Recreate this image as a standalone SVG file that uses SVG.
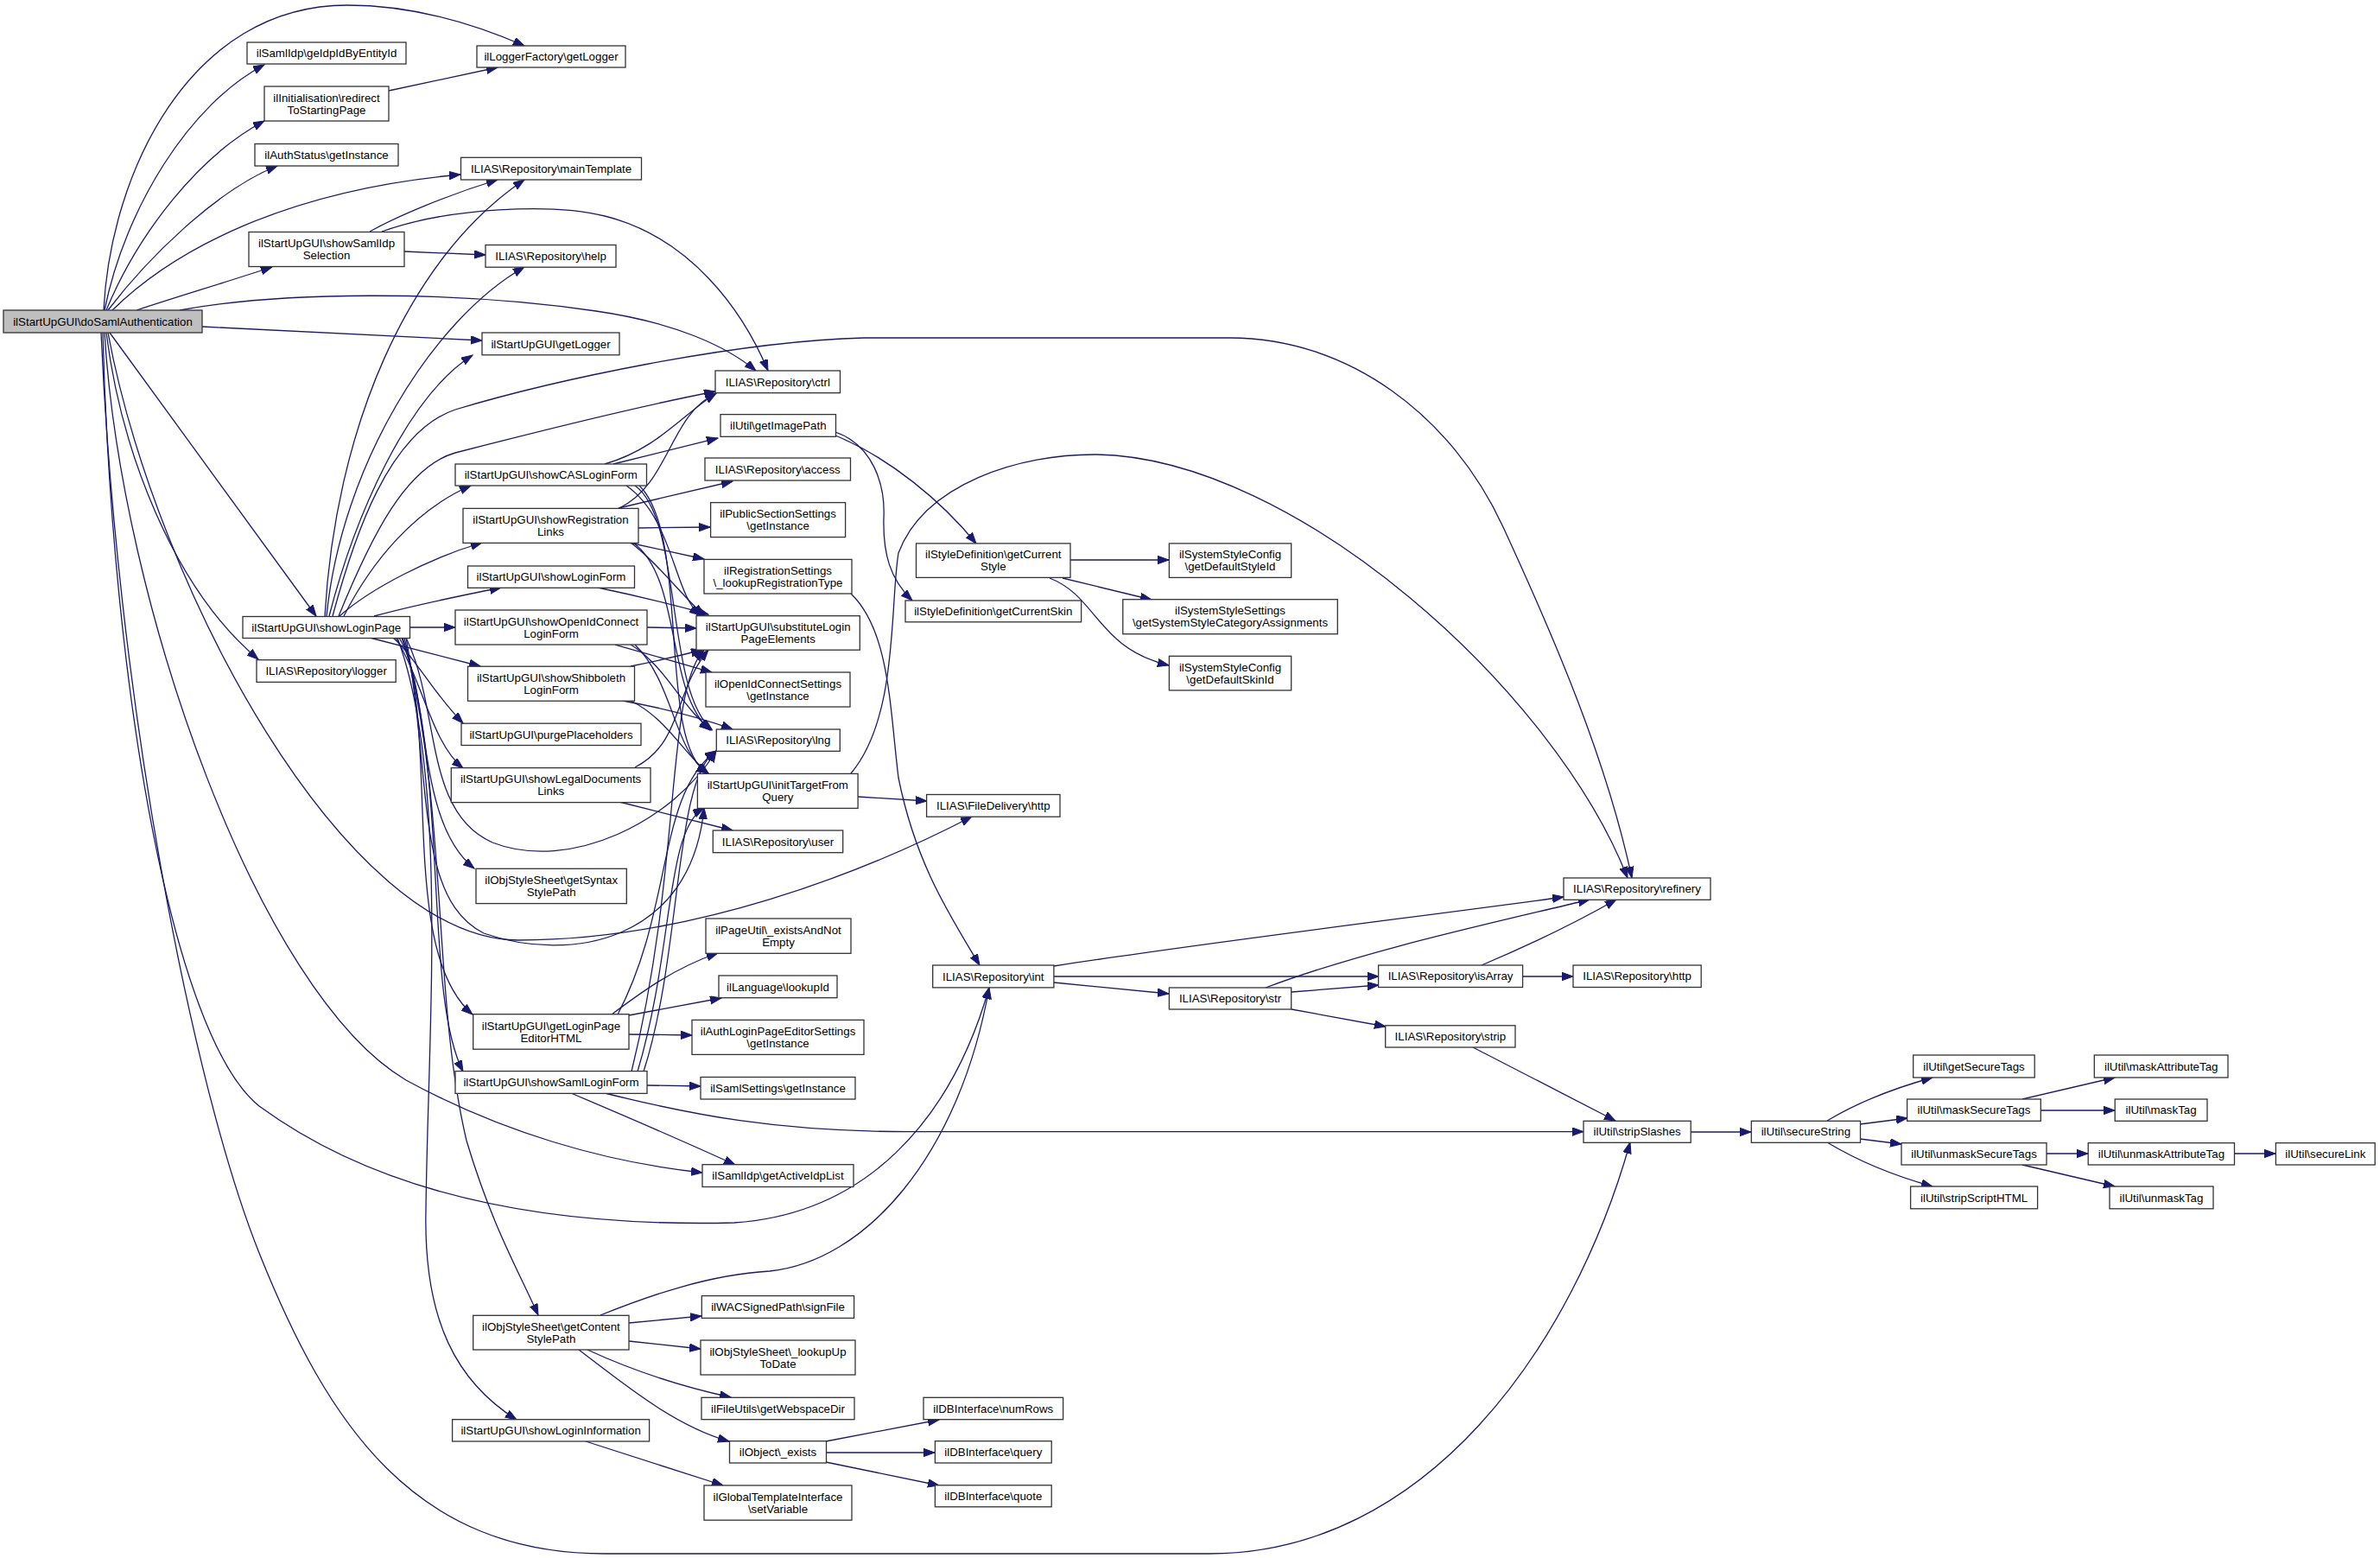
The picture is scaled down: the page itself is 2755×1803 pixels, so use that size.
<svg xmlns="http://www.w3.org/2000/svg" width="2755" height="1803" viewBox="0 0 2755 1803">
<style>
.n rect{fill:#fff;stroke:#333;stroke-width:1.3}
.n.root rect{fill:#bfbfbf}
.n text{font-family:"Liberation Sans",Arial,Helvetica,sans-serif;font-size:13.3px;text-anchor:middle;fill:#000}
.e path{fill:none;stroke:#191970;stroke-width:1.3;marker-end:url(#a)}
</style>
<defs>
<marker id="a" markerUnits="userSpaceOnUse" markerWidth="14" markerHeight="10" refX="13" refY="4.7" orient="auto"><path d="M0,0 L13,4.7 L0,9.4 z" fill="#191970" stroke="#191970" stroke-width="1"/></marker>
</defs>
<rect width="2755" height="1803" fill="#fff"/>
<g id="edges" class="e">
<path d="M120,359 C 128,200 220,6 402,6 C 480,6 550,28 607,53"/>
<path d="M121,359 C 145,240 220,120 306,75"/>
<path d="M123,359 C 160,270 230,180 306,140"/>
<path d="M125,359 C 170,300 250,220 321,192"/>
<path d="M130,359 C 200,290 330,220 533,202"/>
<path d="M158,359 C 200,345 260,327 315,309"/>
<path d="M208,359 C 320,338 520,335 690,360 C 780,373 840,400 875,429"/>
<path d="M234,378 L558,394"/>
<path d="M127,385 L366,713"/>
<path d="M123,385 C 140,520 200,680 299,763"/>
<path d="M125,385 C 180,680 400,1088 600,1088 C 800,1088 1000,1010 1125,945"/>
<path d="M121,385 C 140,700 300,1150 470,1250 C 580,1310 700,1345 813,1357"/>
<path d="M119,385 C 130,800 200,1200 300,1280 C 450,1390 650,1420 850,1415 C 1000,1405 1100,1300 1145,1143"/>
<path d="M117,385 C 135,800 220,1250 300,1450 C 380,1650 480,1798 700,1798 L 1400,1798 C 1650,1798 1820,1560 1887,1322"/>
<path d="M428,268 C 460,250 520,225 576,208"/>
<path d="M442,268 C 520,240 640,235 700,250 C 800,275 860,360 889,429"/>
<path d="M468,291 L562,295"/>
<path d="M450,105 L576,78"/>
<path d="M376,713 C 388,500 470,300 607,208"/>
<path d="M378,713 C 395,540 500,370 607,309"/>
<path d="M381,713 C 410,600 470,460 547,411"/>
<path d="M385,713 C 410,620 450,500 527,474 C 640,440 850,395 1000,391 L 1424,391 C 1560,391 1680,480 1740,610 C 1800,740 1860,880 1889,1016"/>
<path d="M392,713 C 430,620 470,540 527,524 C 620,500 740,470 828,453"/>
<path d="M398,713 C 430,650 480,590 545,562"/>
<path d="M393,713 C 430,680 500,645 558,628"/>
<path d="M433,713 C 480,700 530,690 580,680"/>
<path d="M474,726 L527,726"/>
<path d="M428,738 L556,771"/>
<path d="M455,738 C 480,760 500,800 536,837"/>
<path d="M458,738 C 490,790 500,860 536,889"/>
<path d="M462,738 C 500,800 480,950 549,1005"/>
<path d="M465,738 C 510,850 460,1100 547,1174"/>
<path d="M466,738 C 520,900 490,1150 536,1240"/>
<path d="M468,738 C 520,950 500,1150 540,1320 C 570,1420 600,1470 623,1522"/>
<path d="M460,738 C 520,900 495,1200 493,1400 C 490,1530 530,1600 598,1643"/>
<path d="M470,738 C 510,820 490,940 570,975 C 660,1010 780,950 829,869"/>
<path d="M470,738 C 500,900 480,1040 560,1080 C 660,1115 800,1090 815,935"/>
<path d="M700,537 C 760,520 790,480 829,455"/>
<path d="M710,537 L831,507"/>
<path d="M725,562 C 780,600 780,690 811,712"/>
<path d="M735,562 C 790,600 770,800 824,844"/>
<path d="M740,562 C 800,620 760,860 819,895"/>
<path d="M717,588 C 775,560 775,480 829,455"/>
<path d="M716,588 L848,557"/>
<path d="M739,611 L822,610"/>
<path d="M728,628 L815,647"/>
<path d="M730,628 C 760,650 790,690 815,712"/>
<path d="M733,628 C 790,670 770,800 822,845"/>
<path d="M692,680 C 740,690 780,700 820,711"/>
<path d="M749,726 L806,727"/>
<path d="M712,746 L824,778"/>
<path d="M730,746 C 770,770 790,820 824,845"/>
<path d="M735,746 C 780,790 780,870 820,895"/>
<path d="M730,771 C 760,765 790,758 813,752"/>
<path d="M721,811 C 770,820 810,830 848,844"/>
<path d="M730,811 C 770,830 790,870 820,895"/>
<path d="M735,888 C 790,860 780,800 820,752"/>
<path d="M717,928 L848,961"/>
<path d="M993,922 L1073,927"/>
<path d="M985,895 C 1040,830 1030,700 1040,640 C 1070,560 1180,525 1270,526 C 1500,530 1800,800 1884,1016"/>
<path d="M985,687 C 1030,730 1030,820 1040,900 C 1060,1000 1100,1060 1134,1117"/>
<path d="M967,504 C 1030,530 1090,580 1130,629"/>
<path d="M967,500 C 1010,515 1025,560 1023,600 C 1022,640 1030,670 1056,695"/>
<path d="M1239,648 L1353,648"/>
<path d="M1230,669 L1333,694"/>
<path d="M1215,669 C 1270,690 1270,750 1353,770"/>
<path d="M1220,1118 C 1400,1090 1650,1060 1810,1038"/>
<path d="M1220,1130 L1596,1130"/>
<path d="M1220,1137 L1353,1150"/>
<path d="M1465,1143 C 1580,1100 1720,1070 1840,1041"/>
<path d="M1495,1148 L1596,1140"/>
<path d="M1495,1168 L1604,1188"/>
<path d="M1715,1117 C 1760,1098 1820,1070 1871,1041"/>
<path d="M1763,1130 L1821,1130"/>
<path d="M1705,1212 L1870,1297"/>
<path d="M749,1256 L811,1257"/>
<path d="M661,1265 C 720,1290 790,1320 851,1348"/>
<path d="M700,1265 C 800,1290 900,1309.6 1050,1309.6 L 1833,1309.6"/>
<path d="M745,1240 C 790,1100 780,900 829,869"/>
<path d="M738,1240 C 780,1100 770,960 815,935"/>
<path d="M731,1240 C 790,1000 770,800 815,752"/>
<path d="M708,1174 C 740,1150 780,1120 831,1103"/>
<path d="M728,1175 L835,1155"/>
<path d="M728,1197 L801,1198"/>
<path d="M715,1174 C 780,1050 760,920 829,869"/>
<path d="M695,1522 C 750,1500 820,1475 891,1471 C 1000,1460 1110,1340 1145,1143"/>
<path d="M728,1531 L812,1523"/>
<path d="M728,1552 L811,1561"/>
<path d="M680,1562 C 730,1585 790,1605 846,1617"/>
<path d="M670,1562 C 720,1600 780,1650 844,1668"/>
<path d="M678,1668 L837,1719"/>
<path d="M956,1668 L1087,1643"/>
<path d="M956,1681 L1082,1681"/>
<path d="M956,1692 L1087,1719"/>
<path d="M1957,1310 L2027,1310"/>
<path d="M2115,1297 C 2150,1276 2190,1260 2237,1247"/>
<path d="M2153,1301 L2208,1294"/>
<path d="M2153,1318 L2201,1324"/>
<path d="M2115,1322 C 2150,1343 2190,1360 2237,1373"/>
<path d="M2341,1272 L2448,1247"/>
<path d="M2362,1285 L2448,1285"/>
<path d="M2369,1335 L2417,1335"/>
<path d="M2341,1348 L2448,1373"/>
<path d="M2586,1335 L2634,1335"/>
</g>
<g id="n1" class="n root"><rect x="4" y="359" width="230" height="26"/><text x="119" y="376.6">ilStartUpGUI\doSamlAuthentication</text></g>
<g id="n2" class="n"><rect x="286" y="49" width="184" height="25"/><text x="378" y="66.1">ilSamlIdp\geIdpIdByEntityId</text></g>
<g id="n3" class="n"><rect x="552" y="53" width="172" height="25"/><text x="638" y="70.1">ilLoggerFactory\getLogger</text></g>
<g id="n4" class="n"><rect x="306" y="100" width="144" height="40"/><text x="378" y="117.6">ilInitialisation\redirect</text><text x="378" y="131.6">ToStartingPage</text></g>
<g id="n5" class="n"><rect x="295" y="166.5" width="166" height="25.5"/><text x="378" y="183.9">ilAuthStatus\getInstance</text></g>
<g id="n6" class="n"><rect x="533.5" y="182.3" width="209" height="25.7"/><text x="638" y="199.8">ILIAS\Repository\mainTemplate</text></g>
<g id="n7" class="n"><rect x="288" y="268.5" width="180" height="40"/><text x="378" y="286.1">ilStartUpGUI\showSamlIdp</text><text x="378" y="300.1">Selection</text></g>
<g id="n8" class="n"><rect x="562" y="283.5" width="151" height="25.7"/><text x="637.5" y="301">ILIAS\Repository\help</text></g>
<g id="n9" class="n"><rect x="558" y="385" width="159" height="25.8"/><text x="637.5" y="402.5">ilStartUpGUI\getLogger</text></g>
<g id="n10" class="n"><rect x="828" y="429" width="144.5" height="25.7"/><text x="900.3" y="446.5">ILIAS\Repository\ctrl</text></g>
<g id="n11" class="n"><rect x="834" y="479.6" width="133.5" height="25.7"/><text x="900.8" y="497.1">ilUtil\getImagePath</text></g>
<g id="n12" class="n"><rect x="527" y="537" width="221.5" height="25"/><text x="637.8" y="554.1">ilStartUpGUI\showCASLoginForm</text></g>
<g id="n13" class="n"><rect x="816" y="530" width="168.5" height="26"/><text x="900.3" y="547.6">ILIAS\Repository\access</text></g>
<g id="n14" class="n"><rect x="536" y="588.4" width="203" height="40"/><text x="637.5" y="606">ilStartUpGUI\showRegistration</text><text x="637.5" y="620">Links</text></g>
<g id="n15" class="n"><rect x="822.6" y="581.6" width="156" height="40"/><text x="900.6" y="599.2">ilPublicSectionSettings</text><text x="900.6" y="613.2">\getInstance</text></g>
<g id="n16" class="n"><rect x="815" y="647.4" width="171" height="39.6"/><text x="900.5" y="664.8">ilRegistrationSettings</text><text x="900.5" y="678.8">\_lookupRegistrationType</text></g>
<g id="n17" class="n"><rect x="541.5" y="655" width="193" height="25.3"/><text x="638" y="672.3">ilStartUpGUI\showLoginForm</text></g>
<g id="n18" class="n"><rect x="281" y="713.5" width="193.5" height="25"/><text x="377.8" y="730.6">ilStartUpGUI\showLoginPage</text></g>
<g id="n19" class="n"><rect x="527" y="706" width="222" height="40"/><text x="638" y="723.6">ilStartUpGUI\showOpenIdConnect</text><text x="638" y="737.6">LoginForm</text></g>
<g id="n20" class="n"><rect x="806" y="712.7" width="189.3" height="39.5"/><text x="900.7" y="730">ilStartUpGUI\substituteLogin</text><text x="900.7" y="744">PageElements</text></g>
<g id="n21" class="n"><rect x="297" y="763.7" width="161.2" height="25.7"/><text x="377.6" y="781.2">ILIAS\Repository\logger</text></g>
<g id="n22" class="n"><rect x="541.5" y="771.2" width="193" height="40"/><text x="638" y="788.8">ilStartUpGUI\showShibboleth</text><text x="638" y="802.8">LoginForm</text></g>
<g id="n23" class="n"><rect x="817" y="778" width="167" height="40"/><text x="900.5" y="795.6">ilOpenIdConnectSettings</text><text x="900.5" y="809.6">\getInstance</text></g>
<g id="n24" class="n"><rect x="534" y="837.2" width="208" height="25.3"/><text x="638" y="854.5">ilStartUpGUI\purgePlaceholders</text></g>
<g id="n25" class="n"><rect x="829.3" y="844" width="143" height="25.3"/><text x="900.8" y="861.3">ILIAS\Repository\lng</text></g>
<g id="n26" class="n"><rect x="522.3" y="888.6" width="230.7" height="40"/><text x="637.7" y="906.2">ilStartUpGUI\showLegalDocuments</text><text x="637.7" y="920.2">Links</text></g>
<g id="n27" class="n"><rect x="807.4" y="895.4" width="185.7" height="40"/><text x="900.3" y="913">ilStartUpGUI\initTargetFrom</text><text x="900.3" y="927">Query</text></g>
<g id="n28" class="n"><rect x="825.3" y="961" width="150.4" height="25.7"/><text x="900.5" y="978.5">ILIAS\Repository\user</text></g>
<g id="n29" class="n"><rect x="551" y="1005.3" width="174.3" height="40.3"/><text x="638.2" y="1023.1">ilObjStyleSheet\getSyntax</text><text x="638.2" y="1037.1">StylePath</text></g>
<g id="n30" class="n"><rect x="817" y="1063" width="168" height="40.3"/><text x="901" y="1080.8">ilPageUtil\_existsAndNot</text><text x="901" y="1094.8">Empty</text></g>
<g id="n31" class="n"><rect x="832" y="1129" width="137" height="25.7"/><text x="900.5" y="1146.5">ilLanguage\lookupId</text></g>
<g id="n32" class="n"><rect x="547.7" y="1173.7" width="180.3" height="40.5"/><text x="637.9" y="1191.5">ilStartUpGUI\getLoginPage</text><text x="637.9" y="1205.5">EditorHTML</text></g>
<g id="n33" class="n"><rect x="801" y="1180.4" width="199" height="40"/><text x="900.5" y="1198">ilAuthLoginPageEditorSettings</text><text x="900.5" y="1212">\getInstance</text></g>
<g id="n34" class="n"><rect x="527" y="1239.6" width="222" height="25.8"/><text x="638" y="1257.1">ilStartUpGUI\showSamlLoginForm</text></g>
<g id="n35" class="n"><rect x="811" y="1246.5" width="179" height="25.5"/><text x="900.5" y="1263.9">ilSamlSettings\getInstance</text></g>
<g id="n36" class="n"><rect x="813" y="1347.7" width="175" height="25.8"/><text x="900.5" y="1365.2">ilSamlIdp\getActiveIdpList</text></g>
<g id="n37" class="n"><rect x="547.7" y="1522.3" width="180.3" height="39.7"/><text x="637.9" y="1539.8">ilObjStyleSheet\getContent</text><text x="637.9" y="1553.8">StylePath</text></g>
<g id="n38" class="n"><rect x="812.3" y="1499.6" width="176.3" height="25.8"/><text x="900.5" y="1517.1">ilWACSignedPath\signFile</text></g>
<g id="n39" class="n"><rect x="811" y="1551" width="179" height="40"/><text x="900.5" y="1568.6">ilObjStyleSheet\_lookupUp</text><text x="900.5" y="1582.6">ToDate</text></g>
<g id="n40" class="n"><rect x="812" y="1617.3" width="177" height="25.4"/><text x="900.5" y="1634.6">ilFileUtils\getWebspaceDir</text></g>
<g id="n41" class="n"><rect x="844.5" y="1667.7" width="112" height="25.3"/><text x="900.5" y="1685">ilObject\_exists</text></g>
<g id="n42" class="n"><rect x="815" y="1719" width="171" height="40.2"/><text x="900.5" y="1736.7">ilGlobalTemplateInterface</text><text x="900.5" y="1750.7">\setVariable</text></g>
<g id="n43" class="n"><rect x="1069" y="1617.3" width="161.6" height="25.4"/><text x="1149.8" y="1634.6">ilDBInterface\numRows</text></g>
<g id="n44" class="n"><rect x="1082.4" y="1667.7" width="134.8" height="25.3"/><text x="1149.8" y="1685">ilDBInterface\query</text></g>
<g id="n45" class="n"><rect x="1082.4" y="1718.8" width="134.8" height="25"/><text x="1149.8" y="1735.9">ilDBInterface\quote</text></g>
<g id="n46" class="n"><rect x="523.6" y="1642.7" width="228" height="25.3"/><text x="637.6" y="1660">ilStartUpGUI\showLoginInformation</text></g>
<g id="n47" class="n"><rect x="1060.5" y="628.9" width="178.5" height="39.5"/><text x="1149.8" y="646.3">ilStyleDefinition\getCurrent</text><text x="1149.8" y="660.3">Style</text></g>
<g id="n48" class="n"><rect x="1048" y="695" width="203.6" height="24.8"/><text x="1149.8" y="712">ilStyleDefinition\getCurrentSkin</text></g>
<g id="n49" class="n"><rect x="1353.4" y="628.9" width="141.3" height="39.5"/><text x="1424" y="646.3">ilSystemStyleConfig</text><text x="1424" y="660.3">\getDefaultStyleId</text></g>
<g id="n50" class="n"><rect x="1299.8" y="693.7" width="248.5" height="40"/><text x="1424" y="711.3">ilSystemStyleSettings</text><text x="1424" y="725.3">\getSystemStyleCategoryAssignments</text></g>
<g id="n51" class="n"><rect x="1353.4" y="759.3" width="141.3" height="39.6"/><text x="1424" y="776.7">ilSystemStyleConfig</text><text x="1424" y="790.7">\getDefaultSkinId</text></g>
<g id="n52" class="n"><rect x="1072.6" y="919.5" width="154.4" height="25.7"/><text x="1149.8" y="937">ILIAS\FileDelivery\http</text></g>
<g id="n53" class="n"><rect x="1079.7" y="1117" width="140.2" height="25.9"/><text x="1149.8" y="1134.6">ILIAS\Repository\int</text></g>
<g id="n54" class="n"><rect x="1353.4" y="1143" width="141.3" height="25"/><text x="1424" y="1160.1">ILIAS\Repository\str</text></g>
<g id="n55" class="n"><rect x="1810" y="1016" width="170" height="25.3"/><text x="1895" y="1033.3">ILIAS\Repository\refinery</text></g>
<g id="n56" class="n"><rect x="1595.6" y="1117" width="167" height="25.5"/><text x="1679.1" y="1134.4">ILIAS\Repository\isArray</text></g>
<g id="n57" class="n"><rect x="1821" y="1117" width="148.2" height="25.5"/><text x="1895.1" y="1134.4">ILIAS\Repository\http</text></g>
<g id="n58" class="n"><rect x="1603.7" y="1186.8" width="150.3" height="25.2"/><text x="1678.9" y="1204">ILIAS\Repository\strip</text></g>
<g id="n59" class="n"><rect x="1833" y="1297.3" width="124.2" height="25"/><text x="1895.1" y="1314.4">ilUtil\stripSlashes</text></g>
<g id="n60" class="n"><rect x="2027.3" y="1297.3" width="126.2" height="25"/><text x="2090.4" y="1314.4">ilUtil\secureString</text></g>
<g id="n61" class="n"><rect x="2214.7" y="1221" width="140.5" height="26"/><text x="2285" y="1238.6">ilUtil\getSecureTags</text></g>
<g id="n62" class="n"><rect x="2207.6" y="1272" width="154.7" height="25.3"/><text x="2285" y="1289.3">ilUtil\maskSecureTags</text></g>
<g id="n63" class="n"><rect x="2201" y="1322.7" width="168" height="25.3"/><text x="2285" y="1340">ilUtil\unmaskSecureTags</text></g>
<g id="n64" class="n"><rect x="2211.6" y="1373" width="147" height="25.8"/><text x="2285.1" y="1390.5">ilUtil\stripScriptHTML</text></g>
<g id="n65" class="n"><rect x="2424.3" y="1221" width="154.7" height="26"/><text x="2501.7" y="1238.6">ilUtil\maskAttributeTag</text></g>
<g id="n66" class="n"><rect x="2448.2" y="1272" width="106.8" height="25.3"/><text x="2501.6" y="1289.3">ilUtil\maskTag</text></g>
<g id="n67" class="n"><rect x="2417.2" y="1322.7" width="169.3" height="25.3"/><text x="2501.9" y="1340">ilUtil\unmaskAttributeTag</text></g>
<g id="n68" class="n"><rect x="2634.4" y="1322.7" width="114.8" height="25.3"/><text x="2691.8" y="1340">ilUtil\secureLink</text></g>
<g id="n69" class="n"><rect x="2442" y="1373" width="120" height="25.8"/><text x="2502" y="1390.5">ilUtil\unmaskTag</text></g>
</svg>
